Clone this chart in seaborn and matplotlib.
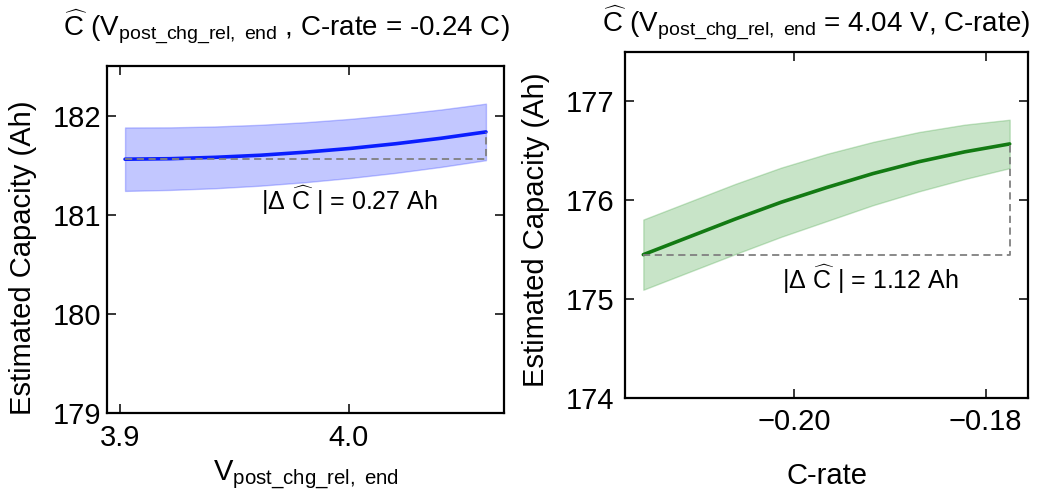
import numpy as np
import pandas as pd
import matplotlib
matplotlib.use("Agg")
import matplotlib.pyplot as plt
import seaborn as sns

# ---- data ----
v_end = [3.902, 3.9218, 3.9415, 3.9613, 3.981, 4.0008, 4.0205, 4.0403, 4.060]
cap_v_mean = [181.560, 181.565, 181.579, 181.600, 181.631, 181.669, 181.716, 181.771, 181.835]
cap_v_low = [181.240, 181.250, 181.267, 181.293, 181.328, 181.371, 181.422, 181.482, 181.550]
cap_v_high = [181.880, 181.881, 181.890, 181.907, 181.933, 181.967, 182.010, 182.061, 182.120]

c_rate = [-0.2158, -0.2110, -0.2062, -0.2014, -0.1966, -0.1918, -0.1870, -0.1822, -0.1775]
cap_c_mean = [175.45, 175.63, 175.81, 175.98, 176.13, 176.27, 176.39, 176.49, 176.57]
cap_c_low = [175.095, 175.275, 175.455, 175.63, 175.79, 175.95, 176.09, 176.215, 176.325]
cap_c_high = [175.805, 175.985, 176.165, 176.33, 176.47, 176.59, 176.69, 176.765, 176.815]

left_yticks = [179, 180, 181, 182]
left_xticks = [3.9, 4.0]
right_yticks = [174, 175, 176, 177]
right_xticks = [-0.20, -0.18]

left_title = r'$\widehat{\mathrm{C}}$ (V$_{\mathrm{post\_chg\_rel,\ end}}$ , C-rate = -0.24 C)'
right_title = r'$\widehat{\mathrm{C}}$ (V$_{\mathrm{post\_chg\_rel,\ end}}$ = 4.04 V, C-rate)'
left_xlabel = r'V$_{\mathrm{post\_chg\_rel,\ end}}$'
right_xlabel = 'C-rate'
ylabel = 'Estimated Capacity (Ah)'
left_note = r'$|\Delta\ \widehat{\mathrm{C}}\ |$ = 0.27 Ah'
right_note = r'$|\Delta\ \widehat{\mathrm{C}}\ |$ = 1.12 Ah'

sns.set_theme(style="ticks")
plt.rcParams['font.family'] = ['Liberation Sans', 'DejaVu Sans']
plt.rcParams['mathtext.fontset'] = 'custom'
plt.rcParams['mathtext.rm'] = 'Liberation Sans'
plt.rcParams['mathtext.it'] = 'Liberation Sans'
plt.rcParams['mathtext.bf'] = 'Liberation Sans:bold'
plt.rcParams['text.color'] = 'black'
plt.rcParams['axes.labelcolor'] = 'black'

fig = plt.figure(figsize=(10.37, 4.94), dpi=100)
W, H = 1037, 494
axL = fig.add_axes([107 / W, 1 - 413 / H, (504 - 107) / W, (413 - 66) / H])
axR = fig.add_axes([625 / W, 1 - 398 / H, (1028 - 625) / W, (398 - 52) / H])

dfL = pd.DataFrame({'x': v_end, 'y': cap_v_mean})
dfR = pd.DataFrame({'x': c_rate, 'y': cap_c_mean})

blue = '#0a1eff'
green = '#137a13'

axL.fill_between(v_end, cap_v_low, cap_v_high, color='#2030ff', alpha=0.27, lw=1)
sns.lineplot(data=dfL, x='x', y='y', ax=axL, color=blue, lw=2.6)
axL.plot([v_end[0], v_end[-1], v_end[-1]], [cap_v_mean[0], cap_v_mean[0], cap_v_mean[-1]],
         ls=(0, (4, 2.5)), color='#808080', lw=1.3)

axR.fill_between(c_rate, cap_c_low, cap_c_high, color='#2e9a2e', alpha=0.26, lw=1)
sns.lineplot(data=dfR, x='x', y='y', ax=axR, color=green, lw=2.6)
axR.plot([c_rate[0], c_rate[-1], c_rate[-1]], [cap_c_mean[0], cap_c_mean[0], cap_c_mean[-1]],
         ls=(0, (4, 2.5)), color='#808080', lw=1.3)

axL.set_ylim(179, 182.5)
axR.set_ylim(174, 177.5)
axL.set_yticks(left_yticks)
axL.set_xticks(left_xticks)
axR.set_yticks(right_yticks)
axR.set_xticks(right_xticks)

for ax in (axL, axR):
    ax.tick_params(direction='in', top=True, right=True, length=6.5, width=1.1,
                   labelsize=21, color='black', labelcolor='black')
    for s in ax.spines.values():
        s.set_linewidth(1.6)
        s.set_color('black')
    ax.set_ylabel(ylabel, fontsize=21, color='black')

axL.tick_params(axis='x', pad=8)
axL.tick_params(axis='y', pad=4)
axR.tick_params(axis='x', pad=7)
axR.tick_params(axis='y', pad=8)

axL.set_xlabel(left_xlabel, fontsize=21, labelpad=5, color='black')
axR.set_xlabel(right_xlabel, fontsize=21, labelpad=19, color='black')
axL.yaxis.set_label_coords(-0.176, 0.447)
axR.yaxis.set_label_coords(-0.186, 0.486)

axL.text(3.9615, 181.15, left_note, fontsize=18, ha='left', va='center')
axR.text(-0.2013, 175.2, right_note, fontsize=18, ha='left', va='center')

fig.text(286.5 / W, 1 - 36 / H, left_title, fontsize=20, ha='center', va='baseline')
fig.text(816 / W, 1 - 32 / H, right_title, fontsize=20, ha='center', va='baseline')

fig.savefig('out.png', dpi=100)
